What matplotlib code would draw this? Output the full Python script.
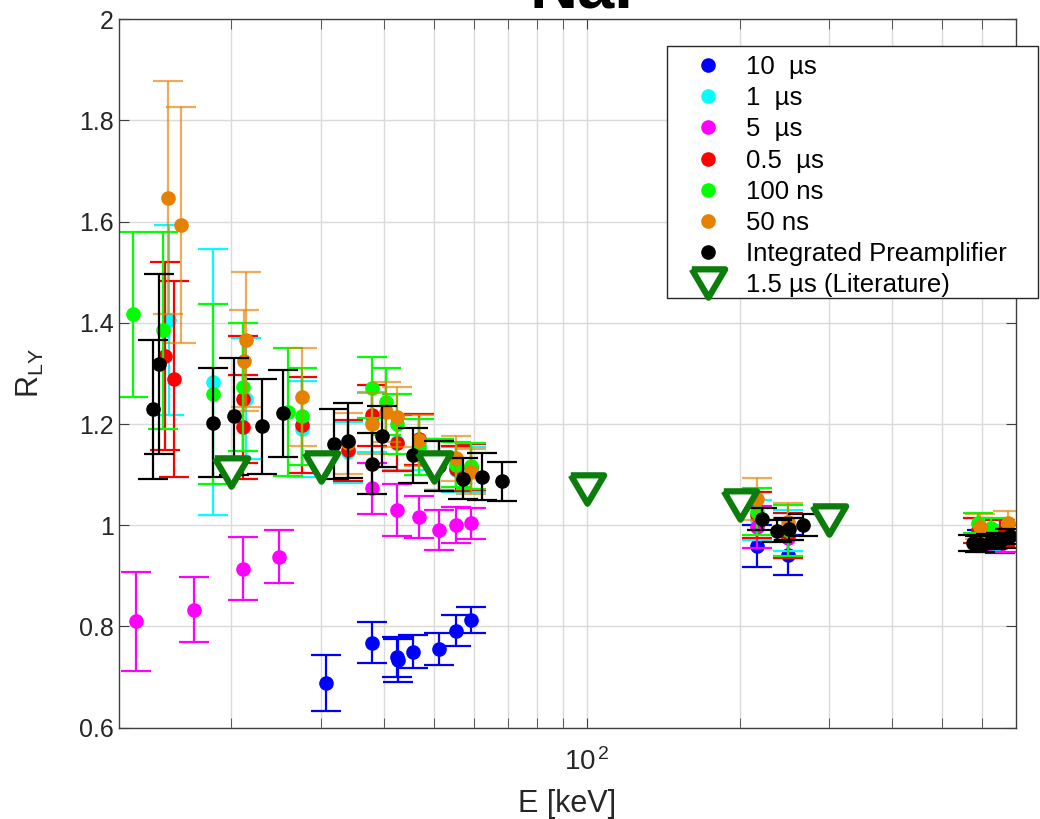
import matplotlib
matplotlib.use('Agg')
import matplotlib.pyplot as plt
import matplotlib.ticker as ticker
from matplotlib.lines import Line2D
from matplotlib.patches import Rectangle
import numpy as np

plt.rcParams['font.family'] = ['Liberation Sans', 'DejaVu Sans']
plt.rcParams['mathtext.fontset'] = 'custom'
plt.rcParams['mathtext.rm'] = 'Liberation Sans'
plt.rcParams['mathtext.it'] = 'Liberation Sans'
plt.rcParams['mathtext.default'] = 'regular'

# shaping time series: energy [keV], light yield ratio, error
e_10us = [30.7, 37.9, 42.3, 42.5, 45.6, 51.3, 55.3, 59.2, 216.7, 248.7, 600, 650]
r_10us = [0.688, 0.768, 0.740, 0.733, 0.750, 0.756, 0.792, 0.813, 0.959, 0.941, 0.970, 0.965]
s_10us = [0.055, 0.040, 0.040, 0.042, 0.033, 0.032, 0.030, 0.026, 0.041, 0.039, 0.020, 0.020]

e_1us = [15.1, 18.4, 21.4, 27.6, 33.9, 37.9, 42.3, 46.7, 55.3, 59.2, 216.7, 248.7, 610]
r_1us = [1.406, 1.283, 1.250, 1.190, 1.144, 1.204, 1.165, 1.160, 1.110, 1.110, 1.010, 0.990, 0.975]
s_1us = [0.188, 0.262, 0.120, 0.095, 0.060, 0.060, 0.055, 0.050, 0.045, 0.045, 0.040, 0.040, 0.025]

e_5us = [13.0, 16.9, 21.1, 24.8, 37.9, 42.3, 46.7, 51.3, 55.3, 59.2, 216.7, 248.7, 620, 660]
r_5us = [0.810, 0.833, 0.914, 0.938, 1.073, 1.030, 1.016, 0.991, 1.000, 1.004, 0.997, 0.975, 0.965, 0.965]
s_5us = [0.098, 0.064, 0.062, 0.052, 0.050, 0.052, 0.042, 0.040, 0.036, 0.031, 0.042, 0.040, 0.017, 0.017]

e_05us = [14.8, 15.4, 21.1, 21.1, 27.6, 33.9, 37.9, 42.3, 46.7, 51.3, 55.3, 59.2, 216.7, 248.7, 590, 650]
r_05us = [1.334, 1.289, 1.249, 1.194, 1.198, 1.148, 1.217, 1.162, 1.170, 1.120, 1.112, 1.115, 1.020, 0.980, 0.990, 0.985]
s_05us = [0.186, 0.194, 0.125, 0.103, 0.095, 0.060, 0.060, 0.055, 0.050, 0.050, 0.045, 0.045, 0.045, 0.045, 0.025, 0.025]

e_100ns = [12.8, 14.7, 18.4, 21.1, 25.8, 27.6, 37.9, 40.3, 42.3, 46.7, 51.3, 55.3, 59.2, 216.7, 248.7, 590, 625]
r_100ns = [1.417, 1.385, 1.260, 1.273, 1.224, 1.215, 1.272, 1.244, 1.200, 1.155, 1.120, 1.120, 1.117, 1.027, 0.990, 1.005, 0.995]
s_100ns = [0.163, 0.195, 0.178, 0.126, 0.127, 0.096, 0.060, 0.066, 0.060, 0.055, 0.050, 0.045, 0.045, 0.047, 0.050, 0.020, 0.020]

e_50ns = [15.0, 15.9, 21.2, 21.4, 27.6, 33.9, 37.9, 40.3, 42.3, 46.7, 55.3, 59.2, 216.7, 248.7, 596, 674]
r_50ns = [1.647, 1.593, 1.325, 1.367, 1.254, 1.162, 1.201, 1.224, 1.214, 1.168, 1.132, 1.106, 1.052, 1.007, 0.997, 1.004]
s_50ns = [0.230, 0.233, 0.100, 0.133, 0.097, 0.060, 0.060, 0.060, 0.060, 0.050, 0.045, 0.045, 0.042, 0.037, 0.025, 0.025]

e_pre = [14.0, 14.4, 18.4, 20.2, 23.0, 25.3, 31.8, 33.9, 37.8, 39.6, 45.6, 51.3, 57.2, 62.2, 68.1,
         221.7, 237.3, 250.6, 266.2, 575, 596, 624, 653, 680]
r_pre = [1.229, 1.319, 1.203, 1.215, 1.196, 1.221, 1.161, 1.167, 1.122, 1.176, 1.138, 1.117, 1.092, 1.096, 1.087,
         1.012, 0.989, 0.993, 1.000, 0.965, 0.963, 0.968, 0.970, 0.978]
s_pre = [0.137, 0.178, 0.108, 0.115, 0.094, 0.086, 0.069, 0.074, 0.060, 0.060, 0.054, 0.050, 0.041, 0.047, 0.039,
         0.022, 0.022, 0.022, 0.022, 0.015, 0.015, 0.015, 0.015, 0.015]

e_lit = [20, 30, 50, 100, 200, 300]
r_lit = [1.105, 1.115, 1.115, 1.071, 1.041, 1.010]

series = [
    (e_10us, r_10us, s_10us, '#0000ff', '10  µs'),
    (e_1us, r_1us, s_1us, '#00ffff', '1  µs'),
    (e_5us, r_5us, s_5us, '#ff00ff', '5  µs'),
    (e_05us, r_05us, s_05us, '#ff0000', '0.5  µs'),
    (e_100ns, r_100ns, s_100ns, '#00ff00', '100 ns'),
    (e_50ns, r_50ns, s_50ns, '#e68000', '50 ns'),
    (e_pre, r_pre, s_pre, '#000000', 'Integrated Preamplifier'),
]
lit_color = '#0b7d0b'
# wide, flat downward triangle
tri_down = [(-1, 0.85), (1, 0.85), (0, -0.85), (-1, 0.85)]

fig = plt.figure(figsize=(10.4, 8.19), dpi=100)
ax = fig.add_axes([0.1141, 0.1115, 0.8628, 0.865])

handles = []
for e, r, s, c, lbl in series:
    bar_alpha = 0.65 if c == '#e68000' else 1.0
    ax.errorbar(e, r, yerr=s, fmt='none', ecolor=c, alpha=bar_alpha,
                elinewidth=1.6, capsize=10.5, capthick=1.6)
    ax.plot(e, r, 'o', color=c, ms=9.5, mec=c, ls='none')
    handles.append(Line2D([], [], ls='none', marker='o', color=c, ms=9.5, label=lbl))

ax.plot(e_lit, r_lit, marker=tri_down, ms=24, mfc='white', mec=lit_color, mew=4.5, ls='none')
handles.append(Line2D([], [], ls='none', marker=tri_down, ms=24, mfc='white', mec=lit_color,
                      mew=4.5, label='1.5 µs (Literature)'))

ax.set_xscale('log')
ax.set_xlim(12, 700)
ax.set_ylim(0.6, 2)
ax.xaxis.set_major_locator(ticker.FixedLocator([100]))
ax.xaxis.set_major_formatter(ticker.FixedFormatter([r'$10^{\,2}$']))
ax.xaxis.set_minor_locator(ticker.FixedLocator([20, 30, 40, 50, 60, 70, 80, 90, 200, 300, 400, 500, 600]))
ax.xaxis.set_minor_formatter(ticker.NullFormatter())
ax.yaxis.set_major_locator(ticker.MultipleLocator(0.2))
ax.yaxis.set_major_formatter(ticker.FuncFormatter(lambda v, p: '%g' % round(v, 1)))

ax.grid(True, which='both', color='#dadada', lw=1)
ax.set_axisbelow(True)
ax.tick_params(which='both', direction='in', top=True, right=True, length=7,
               color='#404040', labelsize=18, labelcolor='#262626')
ax.tick_params(axis='x', which='major', labelsize=20, pad=15)
for sp in ax.spines.values():
    sp.set_color('#404040')
    sp.set_linewidth(1)

ax.set_xlabel('E [keV]', fontsize=22, color='#262626', labelpad=9)
ax.set_ylabel(r'R$_{LY}$', fontsize=22, color='#262626', labelpad=24)

fig.text(581 / 1040, 1 - 8 / 819, 'NaI', ha='center', va='baseline',
         fontsize=48, fontweight='bold')

# legend box drawn separately so its padding can be set freely
W, H = 1040.0, 819.0
fig.patches.append(Rectangle((667 / W, 1 - 298 / H), (1038 - 667) / W, (298 - 45.7) / H,
                             transform=fig.transFigure, facecolor='white',
                             edgecolor='#262626', lw=1, zorder=3))
leg = fig.legend(handles=handles, loc='upper left', bbox_to_anchor=(687 / W, 1 - 55 / H),
                 fontsize=18.5, frameon=False, borderpad=0, borderaxespad=0,
                 labelspacing=0.28, handlelength=1.6, handletextpad=0.68)
leg.set_zorder(4)

fig.savefig('out.png', dpi=100)
